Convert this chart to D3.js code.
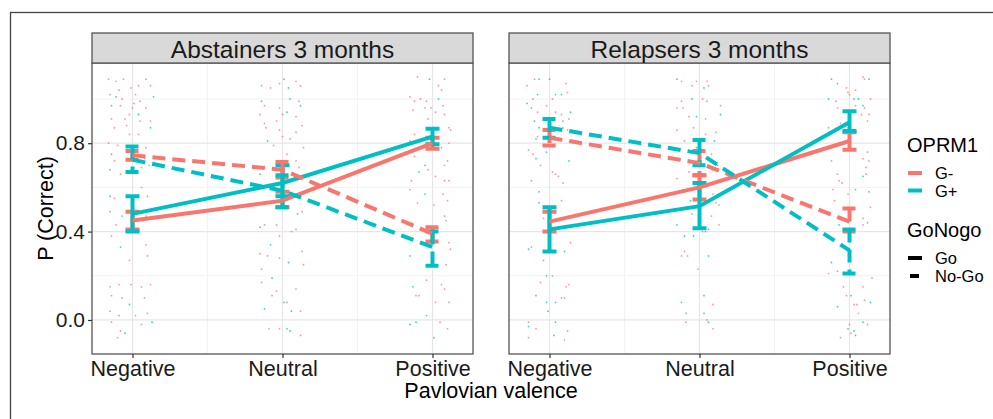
<!DOCTYPE html>
<html>
<head>
<meta charset="utf-8">
<script src="https://cdn.jsdelivr.net/npm/d3@7"></script>
<style>
  body { margin: 0; background: #fff; }
  svg { display: block; font-family: "Liberation Sans", Arial, sans-serif; }
</style>
</head>
<body>
<div id="chart"></div>
<script>
const categories = ["Negative", "Neutral", "Positive"];
const panelTitles = ["Abstainers 3 months", "Relapsers 3 months"];
const genotypes = ["G-", "G+"];
const conditions = ["Go", "No-Go"];
const yTicks = [0.0, 0.4, 0.8];

// group means and error bar ends, per category
const absGoGm = [0.45, 0.54, 0.80], absGoGmLo = [0.41, 0.51, 0.775], absGoGmHi = [0.49, 0.58, 0.825];
const absGoGp = [0.48, 0.62, 0.83], absGoGpLo = [0.40, 0.56, 0.795], absGoGpHi = [0.56, 0.70, 0.865];
const absNoGm = [0.745, 0.68, 0.39], absNoGmLo = [0.725, 0.645, 0.355], absNoGmHi = [0.765, 0.715, 0.42];
const absNoGp = [0.725, 0.585, 0.33], absNoGpLo = [0.67, 0.51, 0.245], absNoGpHi = [0.785, 0.655, 0.40];

const relGoGm = [0.445, 0.60, 0.81], relGoGmLo = [0.40, 0.545, 0.77], relGoGmHi = [0.49, 0.655, 0.85];
const relGoGp = [0.41, 0.515, 0.895], relGoGpLo = [0.31, 0.415, 0.855], relGoGpHi = [0.51, 0.62, 0.945];
const relNoGm = [0.825, 0.71, 0.445], relNoGmLo = [0.79, 0.655, 0.40], relNoGmHi = [0.86, 0.765, 0.505];
const relNoGp = [0.87, 0.755, 0.315], relNoGpLo = [0.825, 0.70, 0.21], relNoGpHi = [0.91, 0.815, 0.41];

// jittered raw points: [jitter offset in category units, P(correct), genotype 0=G- 1=G+]
const absNegPts = [[-0.16,1.09,0],[-0.11,1.08,0],[-0.06,1.09,0],[0.09,1.09,0],[0.04,1.06,0],[0.12,1.06,0],[-0.15,1.02,0],[-0.09,1.04,0],[-0.01,1.05,0],[0.02,1.02,0],[-0.11,1.01,1],[-0.07,1.00,0],[0.01,0.98,0],[0.05,0.99,0],[0.14,1.01,1],[-0.14,0.97,1],[-0.08,0.97,0],[0.00,0.96,0],[0.09,0.96,0],[0.04,0.93,1],[-0.02,0.93,0],[-0.14,0.91,0],[-0.05,0.91,0],[0.05,0.90,0],[0.12,0.90,0],[-0.12,0.87,0],[-0.04,0.88,0],[0.12,0.87,1],[-0.02,0.84,0],[0.04,0.84,0],[-0.16,0.80,0],[-0.10,0.79,0],[-0.14,0.75,1],[-0.12,0.72,0],[-0.15,0.68,1],[-0.08,0.66,0],[0.02,0.67,0],[0.06,0.69,0],[0.11,0.70,0],[0.08,0.73,0],[0.09,0.78,0],[-0.15,0.56,1],[-0.12,0.55,0],[0.06,0.60,0],[0.10,0.56,0],[-0.15,0.49,0],[-0.07,0.47,1],[0.09,0.47,0],[-0.11,0.43,0],[-0.14,0.38,0],[0.04,0.40,0],[0.09,0.34,0],[0.10,0.29,0],[-0.02,0.27,0],[-0.08,0.33,1],[-0.15,0.15,0],[-0.09,0.16,0],[-0.01,0.16,0],[0.06,0.15,0],[0.12,0.16,0],[-0.14,0.11,0],[-0.07,0.10,0],[0.08,0.10,0],[-0.02,0.07,1],[-0.15,0.04,0],[-0.09,0.02,1],[0.02,0.02,0],[0.10,0.03,0],[-0.14,-0.01,0],[0.06,-0.02,0],[0.13,-0.01,1],[-0.08,-0.05,0],[-0.05,-0.06,1],[-0.10,-0.08,0]];
const absNeuPts = [[-0.14,1.06,0],[-0.08,1.05,0],[-0.02,1.07,0],[0.01,1.09,1],[0.09,1.08,0],[0.12,1.06,0],[0.04,1.05,1],[-0.14,0.99,1],[-0.12,0.97,0],[-0.02,0.96,0],[0.05,1.00,1],[0.11,0.99,0],[0.12,0.97,1],[-0.15,0.93,0],[0.00,0.93,0],[0.03,0.94,1],[0.09,0.92,0],[-0.12,0.89,0],[-0.04,0.90,0],[0.13,0.88,0],[-0.11,0.87,0],[-0.02,0.86,0],[0.09,0.85,0],[-0.10,0.81,1],[-0.06,0.79,0],[0.00,0.83,0],[0.05,0.82,0],[0.14,0.78,0],[0.03,0.75,0],[-0.15,0.66,1],[0.09,0.72,0],[0.11,0.69,0],[0.13,0.49,0],[0.10,0.48,1],[-0.15,0.42,1],[-0.12,0.43,0],[-0.04,0.43,0],[0.06,0.40,0],[0.09,0.41,0],[-0.02,0.38,0],[-0.08,0.34,1],[-0.15,0.30,0],[-0.10,0.29,0],[-0.02,0.28,0],[0.04,0.26,1],[0.13,0.31,0],[0.14,0.25,0],[-0.14,0.23,0],[-0.07,0.19,1],[-0.14,0.17,0],[0.09,0.14,0],[-0.07,0.11,0],[-0.04,0.13,0],[0.03,0.08,0],[0.01,0.08,1],[-0.12,0.05,1],[0.06,0.04,1],[0.12,0.04,0],[-0.09,-0.04,0],[-0.02,-0.04,0],[0.03,-0.04,1],[0.05,-0.05,1],[0.12,-0.07,0]];
const absPosPts = [[-0.10,1.10,0],[-0.02,1.09,1],[0.04,1.06,0],[0.08,1.09,0],[0.06,1.04,0],[-0.15,1.01,0],[-0.12,0.99,0],[-0.08,1.00,0],[-0.04,0.99,0],[0.04,1.00,1],[0.07,0.97,0],[-0.13,0.95,0],[-0.05,0.96,0],[-0.01,0.96,0],[0.02,0.94,0],[0.08,0.93,0],[-0.03,0.91,0],[0.11,0.87,0],[0.12,0.86,0],[-0.12,0.84,0],[-0.15,0.81,0],[0.06,0.78,1],[0.11,0.80,0],[-0.12,0.74,0],[-0.05,0.70,1],[-0.09,0.67,1],[-0.03,0.68,0],[0.08,0.70,0],[0.10,0.72,0],[-0.14,0.63,0],[0.02,0.65,0],[0.08,0.63,0],[0.11,0.63,0],[-0.15,0.59,0],[-0.05,0.57,1],[0.07,0.57,0],[-0.10,0.53,0],[0.01,0.52,0],[0.10,0.54,0],[0.08,0.47,0],[0.09,0.45,0],[-0.14,0.44,0],[-0.15,0.29,1],[0.11,0.35,0],[0.12,0.32,0],[0.09,0.25,0],[-0.04,0.18,0],[-0.13,0.15,1],[-0.11,0.11,0],[-0.09,0.11,0],[0.06,0.16,0],[0.08,0.14,0],[0.02,0.08,0],[0.11,0.08,0],[-0.15,-0.02,1],[-0.11,-0.01,1],[-0.04,0.02,1],[0.05,-0.01,0],[0.10,-0.04,0],[0.01,-0.08,1]];
const relNegPts = [[-0.15,1.06,0],[-0.10,1.09,0],[-0.07,1.09,1],[0.00,1.09,1],[0.11,1.07,0],[-0.08,1.02,1],[0.02,1.00,0],[0.04,1.02,1],[0.08,1.02,1],[0.12,1.03,0],[-0.15,0.98,1],[-0.11,1.00,0],[-0.12,0.96,1],[-0.08,0.94,0],[-0.10,0.90,1],[-0.02,0.97,0],[0.04,0.94,0],[0.08,0.93,0],[0.09,0.90,1],[0.14,0.94,1],[0.13,0.91,0],[-0.07,0.87,1],[0.09,0.87,0],[0.12,0.86,0],[-0.09,0.82,1],[-0.08,0.83,0],[-0.14,0.77,0],[-0.11,0.75,0],[-0.09,0.73,1],[-0.06,0.70,0],[-0.02,0.76,1],[0.13,0.72,1],[0.02,0.67,0],[0.04,0.66,0],[0.06,0.65,0],[-0.12,0.63,0],[0.09,0.62,0],[-0.07,0.58,1],[-0.07,0.53,1],[0.08,0.54,0],[-0.04,0.46,0],[-0.14,0.32,1],[-0.12,0.33,0],[0.14,0.35,0],[0.10,0.31,1],[-0.04,0.27,1],[-0.02,0.20,1],[0.02,0.20,0],[-0.06,0.17,0],[0.13,0.16,0],[0.11,0.15,0],[-0.09,0.11,1],[-0.02,0.08,1],[0.04,0.08,1],[0.08,0.10,0],[0.10,0.10,0],[-0.01,0.04,1],[-0.14,-0.01,0],[-0.14,-0.03,1],[-0.09,-0.04,0],[0.04,-0.01,1],[0.12,-0.05,0],[0.03,-0.07,1],[0.10,-0.09,0],[-0.14,-0.08,0]];
const relNeuPts = [[-0.15,1.09,1],[-0.12,1.08,0],[-0.02,1.08,0],[0.05,1.08,0],[0.06,1.06,0],[0.03,1.05,1],[-0.05,1.06,0],[-0.05,1.00,1],[-0.12,0.99,0],[-0.15,0.96,0],[-0.11,0.96,0],[0.02,1.00,0],[0.05,0.99,0],[0.14,0.97,0],[-0.07,0.92,0],[-0.02,0.92,1],[0.04,0.91,0],[0.14,0.93,1],[-0.15,0.86,0],[-0.04,0.87,0],[0.04,0.84,0],[0.11,0.85,0],[-0.10,0.81,0],[0.10,0.81,1],[-0.02,0.78,1],[0.08,0.75,0],[0.09,0.72,0],[0.12,0.70,1],[-0.15,0.64,0],[-0.07,0.67,0],[0.09,0.68,0],[-0.11,0.59,1],[0.09,0.57,0],[-0.06,0.54,1],[0.11,0.53,0],[0.13,0.52,0],[0.08,0.47,0],[-0.05,0.48,0],[-0.15,0.43,1],[0.00,0.44,1],[0.13,0.43,0],[-0.10,0.38,1],[-0.04,0.38,1],[0.02,0.40,0],[0.04,0.40,1],[0.06,0.41,1],[-0.10,0.31,0],[-0.12,0.29,0],[-0.08,0.29,0],[0.06,0.29,1],[-0.01,0.23,0],[0.03,0.11,1],[-0.12,0.08,1],[0.09,0.07,0],[-0.09,0.03,1],[0.03,0.03,1],[0.05,0.00,0],[0.06,-0.01,1],[-0.09,-0.01,0],[0.09,-0.04,0]];
const relPosPts = [[-0.12,1.09,1],[-0.08,1.07,1],[0.09,1.10,0],[0.10,1.09,0],[0.13,1.09,1],[-0.02,1.05,0],[-0.01,1.03,0],[0.04,1.04,0],[0.00,1.02,0],[-0.14,1.00,1],[0.03,1.00,1],[0.06,1.00,1],[0.14,1.00,0],[-0.09,0.99,0],[-0.08,0.96,0],[0.04,0.97,0],[0.09,0.97,1],[0.10,0.96,0],[-0.02,0.94,0],[0.08,0.93,0],[0.13,0.93,0],[0.12,0.90,0],[-0.14,0.87,0],[-0.06,0.89,0],[0.12,0.76,0],[0.09,0.73,0],[-0.12,0.72,0],[0.13,0.72,0],[0.11,0.69,0],[0.09,0.65,1],[0.11,0.66,0],[-0.08,0.66,0],[-0.07,0.63,0],[-0.05,0.62,0],[-0.11,0.59,0],[-0.01,0.57,0],[0.04,0.59,1],[0.13,0.58,1],[-0.10,0.54,0],[0.14,0.51,0],[0.09,0.46,0],[0.09,0.43,0],[-0.07,0.43,1],[0.12,0.44,0],[-0.12,0.26,1],[-0.08,0.22,1],[-0.14,0.21,0],[0.15,0.19,0],[-0.04,0.15,0],[0.09,0.15,0],[0.01,0.11,1],[0.03,0.07,0],[0.05,0.07,0],[-0.02,0.11,0],[0.10,0.09,0],[-0.08,0.06,1],[0.14,0.08,1],[0.06,0.03,0],[0.09,-0.01,1],[0.00,-0.02,0],[0.12,-0.02,0],[-0.01,-0.04,1],[0.03,-0.05,1],[0.04,-0.07,1],[0.01,-0.06,0],[-0.06,-0.08,0]];

const colors = { "G-": "#F8766D", "G+": "#00BFC4" };
const dashes = { "Go": null, "No-Go": "13,7" };

const width = 993, height = 419;
const svg = d3.select("#chart").append("svg")
  .attr("width", width).attr("height", height);

// outer figure frame
svg.append("rect")
  .attr("x", 10.5).attr("y", 12.5).attr("width", 1000).attr("height", 500)
  .attr("fill", "none").attr("stroke", "#444").attr("stroke-width", 1.3);

const panelTop = 63, panelBottom = 354, stripTop = 33;
const y = d3.scaleLinear().domain([-0.154, 1.163]).range([panelBottom, panelTop]);

const panels = [
  {
    title: panelTitles[0], x0: 92, x1: 473,
    points: [absNegPts, absNeuPts, absPosPts],
    series: [
      { g: "G-", c: "Go", m: absGoGm, lo: absGoGmLo, hi: absGoGmHi },
      { g: "G+", c: "Go", m: absGoGp, lo: absGoGpLo, hi: absGoGpHi },
      { g: "G-", c: "No-Go", m: absNoGm, lo: absNoGmLo, hi: absNoGmHi },
      { g: "G+", c: "No-Go", m: absNoGp, lo: absNoGpLo, hi: absNoGpHi }
    ]
  },
  {
    title: panelTitles[1], x0: 509, x1: 890,
    points: [relNegPts, relNeuPts, relPosPts],
    series: [
      { g: "G-", c: "Go", m: relGoGm, lo: relGoGmLo, hi: relGoGmHi },
      { g: "G+", c: "Go", m: relGoGp, lo: relGoGpLo, hi: relGoGpHi },
      { g: "G-", c: "No-Go", m: relNoGm, lo: relNoGmLo, hi: relNoGmHi },
      { g: "G+", c: "No-Go", m: relNoGp, lo: relNoGpLo, hi: relNoGpHi }
    ]
  }
];

panels.forEach((p, pi) => {
  const x = d3.scalePoint().domain(categories).range([p.x0, p.x1]).padding(0.27);
  const step = x.step();
  const g = svg.append("g");

  // grid
  const minorY = [0.2, 0.6, 1.0];
  g.selectAll(".minY").data(minorY).join("line")
    .attr("x1", p.x0).attr("x2", p.x1)
    .attr("y1", d => y(d)).attr("y2", d => y(d))
    .attr("stroke", "#f2f2f2").attr("stroke-width", 1);
  g.selectAll(".minX").data(categories.slice(0, -1)).join("line")
    .attr("x1", d => x(d) + step / 2).attr("x2", d => x(d) + step / 2)
    .attr("y1", panelTop).attr("y2", panelBottom)
    .attr("stroke", "#f2f2f2").attr("stroke-width", 1);
  g.selectAll(".majY").data(yTicks).join("line")
    .attr("x1", p.x0).attr("x2", p.x1)
    .attr("y1", d => y(d)).attr("y2", d => y(d))
    .attr("stroke", "#e6e6e6").attr("stroke-width", 1.2);
  g.selectAll(".majX").data(categories).join("line")
    .attr("x1", d => x(d)).attr("x2", d => x(d))
    .attr("y1", panelTop).attr("y2", panelBottom)
    .attr("stroke", "#e6e6e6").attr("stroke-width", 1.2);

  // jittered points
  p.points.forEach((pts, ci) => {
    g.append("g").selectAll("circle").data(pts).join("circle")
      .attr("cx", d => x(categories[ci]) + d[0] * step)
      .attr("cy", d => y(d[1]))
      .attr("r", 0.9)
      .attr("fill", d => colors[genotypes[d[2]]])
      .attr("opacity", 0.75);
  });

  // error bars
  p.series.forEach(s => {
    const eb = g.append("g")
      .attr("stroke", colors[s.g]).attr("stroke-width", 4)
      .attr("stroke-dasharray", dashes[s.c]).attr("fill", "none");
    eb.selectAll("path").data(categories).join("path")
      .attr("d", (c, i) => {
        const cx = x(c), hw = 7;
        return `M${cx - hw},${y(s.hi[i])}H${cx + hw}M${cx},${y(s.hi[i])}V${y(s.lo[i])}M${cx - hw},${y(s.lo[i])}H${cx + hw}`;
      });
  });

  // mean lines
  const line = d3.line().x((d, i) => x(categories[i])).y(d => y(d));
  p.series.forEach(s => {
    g.append("path").datum(s.m)
      .attr("d", line)
      .attr("fill", "none")
      .attr("stroke", colors[s.g]).attr("stroke-width", 4)
      .attr("stroke-dasharray", dashes[s.c]);
  });

  // panel border
  g.append("rect")
    .attr("x", p.x0).attr("y", panelTop).attr("width", p.x1 - p.x0).attr("height", panelBottom - panelTop)
    .attr("fill", "none").attr("stroke", "#555").attr("stroke-width", 1.3);

  // strip
  g.append("rect")
    .attr("x", p.x0).attr("y", stripTop).attr("width", p.x1 - p.x0).attr("height", panelTop - stripTop)
    .attr("fill", "#d9d9d9").attr("stroke", "#555").attr("stroke-width", 1.3);
  g.append("text")
    .attr("x", (p.x0 + p.x1) / 2).attr("y", 57.5)
    .attr("text-anchor", "middle").attr("font-size", 24.5).attr("fill", "#1a1a1a")
    .text(p.title);

  // x axis
  const xAxis = g.append("g").attr("transform", `translate(0,${panelBottom})`)
    .call(d3.axisBottom(x).tickSize(4).tickPadding(3));
  xAxis.select(".domain").remove();
  xAxis.selectAll(".tick line").attr("stroke", "#333").attr("stroke-width", 1.2);
  xAxis.selectAll(".tick text").attr("font-size", 21.5).attr("fill", "#1a1a1a")
    .attr("font-family", "Liberation Sans, Arial, sans-serif");

  // y axis only on the first panel
  if (pi === 0) {
    const yAxis = g.append("g").attr("transform", `translate(${p.x0},0)`)
      .call(d3.axisLeft(y).tickValues(yTicks).tickFormat(d3.format(".1f")).tickSize(4).tickPadding(3));
    yAxis.select(".domain").remove();
    yAxis.selectAll(".tick line").attr("stroke", "#333").attr("stroke-width", 1.2);
    yAxis.selectAll(".tick text").attr("font-size", 21).attr("fill", "#1a1a1a")
      .attr("font-family", "Liberation Sans, Arial, sans-serif");
  }
});

// axis titles
svg.append("text")
  .attr("x", 491).attr("y", 398)
  .attr("text-anchor", "middle").attr("font-size", 21.5).attr("fill", "#000")
  .text("Pavlovian valence");
svg.append("text")
  .attr("transform", `translate(53,${(panelTop + panelBottom) / 2}) rotate(-90)`)
  .attr("text-anchor", "middle").attr("font-size", 21.5).attr("fill", "#000")
  .text("P (Correct)");

// legends
const leg = svg.append("g");
leg.append("text").attr("x", 907).attr("y", 152).attr("font-size", 20).text("OPRM1");
genotypes.forEach((gt, i) => {
  const yy = 173 + i * 17.5;
  leg.append("line").attr("x1", 908).attr("x2", 922).attr("y1", yy).attr("y2", yy)
    .attr("stroke", colors[gt]).attr("stroke-width", 4);
  leg.append("text").attr("x", 935).attr("y", yy + 6).attr("font-size", 16.5).text(gt);
});
leg.append("text").attr("x", 907).attr("y", 237).attr("font-size", 20).text("GoNogo");
conditions.forEach((cd, i) => {
  const yy = 258 + i * 18;
  leg.append("line").attr("x1", 908).attr("x2", 922).attr("y1", yy).attr("y2", yy)
    .attr("stroke", "#000").attr("stroke-width", 4)
    .attr("stroke-dasharray", cd === "No-Go" ? "9,5" : null)
    .attr("stroke-dashoffset", cd === "No-Go" ? -2 : 0);
  leg.append("text").attr("x", 935).attr("y", yy + 6).attr("font-size", 16.5).text(cd);
});
</script>
</body>
</html>
